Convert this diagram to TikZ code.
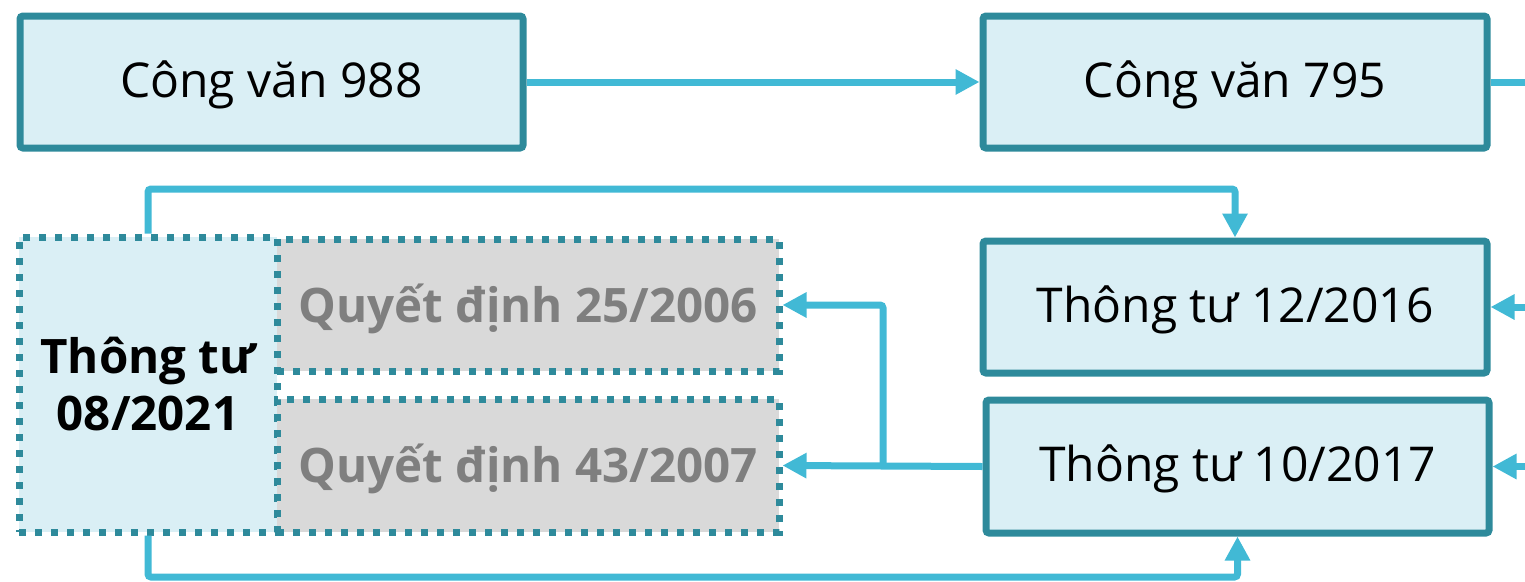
\documentclass[tikz,border=0pt]{standalone}
\usepackage{fontspec}
\setmainfont{Open Sans}
\usetikzlibrary{arrows.meta}
\definecolor{boxline}{HTML}{2E8A9B}
\definecolor{boxfill}{HTML}{DAEFF5}
\definecolor{grayfill}{HTML}{D9D9D9}
\definecolor{graytext}{HTML}{7F7F7F}
\definecolor{conncol}{HTML}{41B9D5}
\tikzset{
  solidbox/.style={draw=boxline, fill=boxfill, line width=7pt, rounded corners=3pt,
    inner sep=0pt, text height=40pt, text depth=10pt, font=\fontsize{48}{57}\selectfont},
  dotbox/.style={draw=boxline, line width=7pt, dash pattern=on 7pt off 9pt,
    inner sep=0pt, font=\fontsize{47.5}{57}\selectfont\bfseries, align=center},
  qdbox/.style={dotbox, fill=grayfill, text=graytext, text height=42pt, text depth=8pt},
  conn/.style={draw=conncol, line width=7pt, rounded corners=3pt},
  arr/.style={conn, -{Triangle[length=24pt,width=24pt]}},
}
\begin{document}
\begin{tikzpicture}[x=1pt,y=-1pt]
\useasboundingbox (0,0) rectangle (1525,581);
\node[solidbox, minimum width=503pt, minimum height=132pt] (cv988) at (271.5,82) {Công văn 988};
\node[solidbox, minimum width=504pt, minimum height=132pt] (cv795) at (1235,82) {Công văn 795};
\node[solidbox, minimum width=504pt, minimum height=132pt] (tt12) at (1235,307) {Thông tư 12/2016};
\node[solidbox, minimum width=503pt, minimum height=133pt] (tt10) at (1237.5,466.5) {Thông tư 10/2017};
\node[dotbox, fill=boxfill, text=black, minimum width=258pt, minimum height=295pt] (tt08) at (148,384.5) {Thông tư\\08/2021};
\node[qdbox, minimum width=502pt, minimum height=132pt] (qd25) at (528,305) {Quyết định 25/2006};
\node[qdbox, minimum width=502pt, minimum height=133pt] (qd43) at (528,465.5) {Quyết định 43/2007};
\coordinate (r1) at (1525,82);
\coordinate (r2) at (1525,307);
\coordinate (r3) at (1525,466.5);
\coordinate (topy) at (148,189);
\coordinate (boty) at (148,577);
\coordinate (branch) at (883,466.5);
\draw[arr] (cv988.east) -- (cv795.west);
\draw[conn] (cv795.east) -- (r1);
\draw[arr] (r2) -- (tt12.east);
\draw[arr] (r3) -- (tt10.east);
\draw[arr] (tt08.north) -- (topy) -| (tt12.north);
\draw[arr] (tt08.south) -- (boty) -| (tt10.south);
\draw[arr] (tt10.west) -- (qd43.east);
\draw[arr] (branch) |- (qd25.east);
\end{tikzpicture}
\end{document}
